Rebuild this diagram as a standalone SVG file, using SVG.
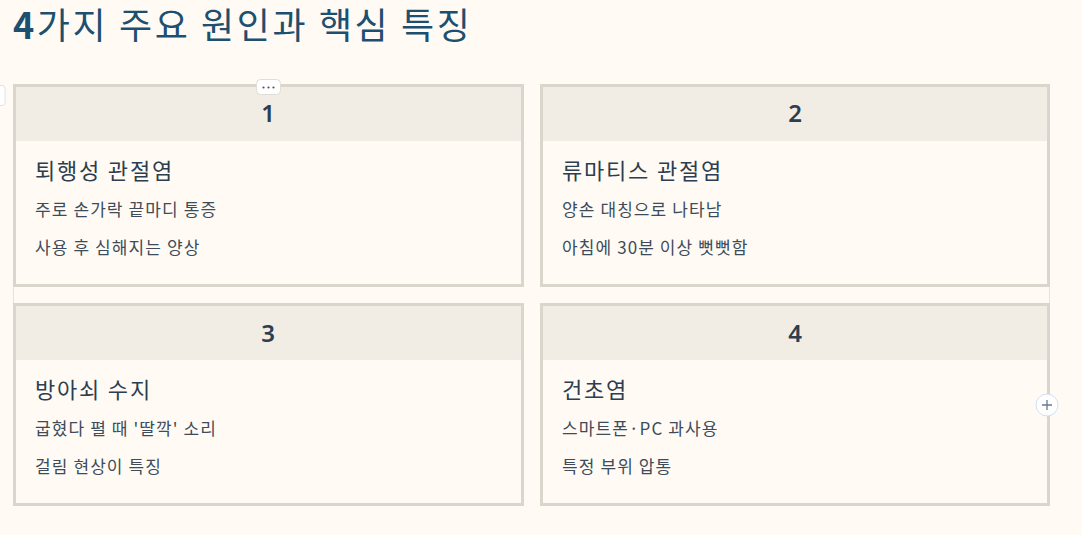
<svg xmlns="http://www.w3.org/2000/svg" width="1082" height="535" viewBox="0 0 1082 535">
<style>
.bg{fill:#FFFBF4}
.card{fill:#FFFBF4;stroke:#DAD6CC;stroke-width:3}
.head{fill:#F1EDE4}
.num{font-family:"Noto Sans","Noto Sans CJK KR",sans-serif;font-size:24px;font-weight:600;fill:#2C3E50;text-anchor:middle}
.ttl{font-family:"Noto Sans CJK KR",sans-serif;font-size:22px;fill:#2C3E50;letter-spacing:1.8px}
.txt{font-family:"Noto Sans CJK KR",sans-serif;font-size:17px;fill:#3D4B5A;letter-spacing:1.1px}
.h1{font-family:"Noto Sans CJK KR",sans-serif;font-size:36px;fill:#1D4F70;letter-spacing:2.6px}
.grid{stroke:#E6E2D8;stroke-width:1;fill:none}
</style>
<rect class="bg" x="0" y="0" width="1082" height="535"/>
<text class="h1" x="13" y="39"><tspan font-weight="700">4</tspan>가지 주요 원인과 핵심 특징</text>
<g id="grid" class="grid">
<line x1="13.5" y1="84" x2="13.5" y2="506"/>
<line x1="1049.5" y1="84" x2="1049.5" y2="506"/>
</g>
<g id="node1">
<rect class="card" x="14.5" y="85.5" width="508" height="200"/>
<rect class="head" x="16" y="87" width="505" height="54"/>
<text class="num" x="268" y="122">1</text>
<text class="ttl" x="35" y="179">퇴행성 관절염</text>
<text class="txt" x="35" y="216">주로 손가락 끝마디 통증</text>
<text class="txt" x="35" y="254">사용 후 심해지는 양상</text>
</g>
<g id="node2">
<rect class="card" x="541.5" y="85.5" width="507" height="200"/>
<rect class="head" x="543" y="87" width="504" height="54"/>
<text class="num" x="795" y="122">2</text>
<text class="ttl" x="562" y="179">류마티스 관절염</text>
<text class="txt" x="562" y="216">양손 대칭으로 나타남</text>
<text class="txt" x="562" y="254">아침에 30분 이상 뻣뻣함</text>
</g>
<g id="node3">
<rect class="card" x="14.5" y="304.5" width="508" height="200"/>
<rect class="head" x="16" y="306" width="505" height="54"/>
<text class="num" x="268" y="342">3</text>
<text class="ttl" x="35" y="398">방아쇠 수지</text>
<text class="txt" x="35" y="435">굽혔다 펼 때 '딸깍' 소리</text>
<text class="txt" x="35" y="473">걸림 현상이 특징</text>
</g>
<g id="node4">
<rect class="card" x="541.5" y="304.5" width="507" height="200"/>
<rect class="head" x="543" y="306" width="504" height="54"/>
<text class="num" x="795" y="342">4</text>
<text class="ttl" x="562" y="398">건초염</text>
<text class="txt" x="562" y="435">스마트폰·PC 과사용</text>
<text class="txt" x="562" y="473">특정 부위 압통</text>
</g>
<g id="widgets">
<rect x="-6" y="85.5" width="11" height="20" rx="3" fill="#FFFFFF" stroke="#E2E2E2"/>
<rect x="256.5" y="79.5" width="24" height="15" rx="4" fill="#FFFFFF" stroke="#E0DDD6"/>
<circle cx="263.5" cy="87.5" r="1.1" fill="#555"/>
<circle cx="268.5" cy="87.5" r="1.1" fill="#555"/>
<circle cx="273.5" cy="87.5" r="1.1" fill="#555"/>
<circle cx="1047" cy="405" r="11" fill="#FFFFFF" stroke="#CFE0F5" stroke-width="1"/>
<path d="M1042 405H1052M1047 400V410" stroke="#6A7A8C" stroke-width="1.3"/>
</g>
</svg>
